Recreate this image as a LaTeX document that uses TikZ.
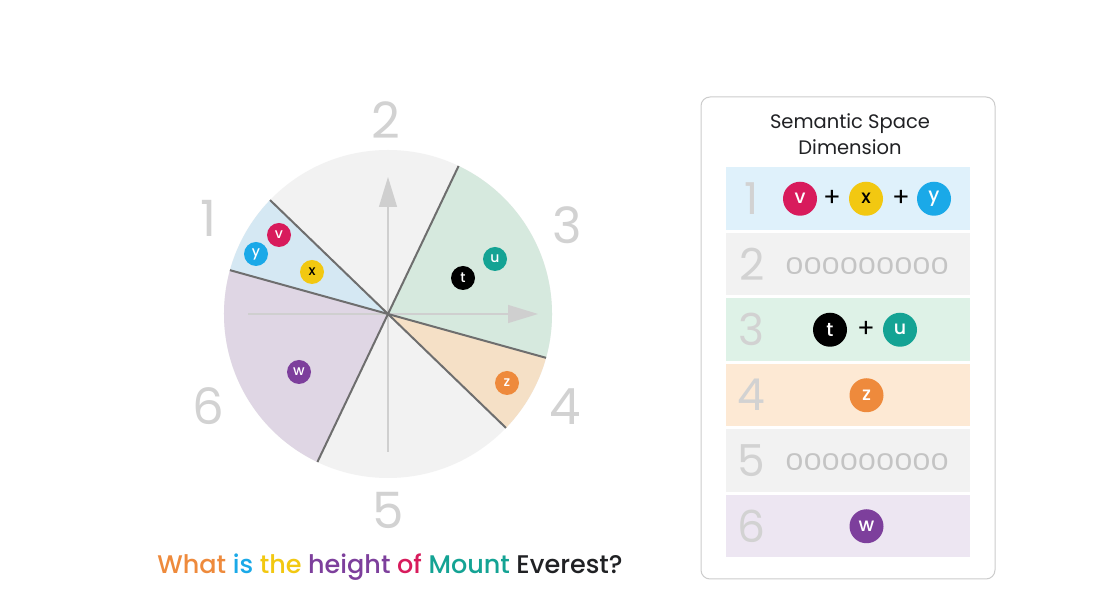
\documentclass[tikz,border=0pt]{standalone}
\usepackage{fontspec}
\setmainfont{Poppins}
\newfontfamily\medfont{Poppins Medium}
\usetikzlibrary{arrows.meta}

\definecolor{secblue}{HTML}{D5E8F3}
\definecolor{secgray}{HTML}{F2F2F2}
\definecolor{secgreen}{HTML}{D6E9DE}
\definecolor{secorange}{HTML}{F5E0C6}
\definecolor{secpurple}{HTML}{DFD6E4}
\definecolor{rowblue}{HTML}{DFF1FB}
\definecolor{rowgreen}{HTML}{DEF2E7}
\definecolor{roworange}{HTML}{FDE9D4}
\definecolor{rowpurple}{HTML}{EDE6F2}
\definecolor{divgray}{HTML}{6E6E6E}
\definecolor{axisgray}{HTML}{CFCFCF}
\definecolor{numgray}{HTML}{D2D2D2}
\definecolor{zerogray}{HTML}{C4C4C4}
\definecolor{boxgray}{HTML}{CCCCCC}
\definecolor{tokv}{HTML}{D81B5C}
\definecolor{tokx}{HTML}{F2C811}
\definecolor{toky}{HTML}{1AA9E8}
\definecolor{tokt}{HTML}{000000}
\definecolor{toku}{HTML}{14A394}
\definecolor{tokz}{HTML}{EE8A3C}
\definecolor{tokw}{HTML}{7D3F9C}
\definecolor{qblack}{HTML}{202124}

\begin{document}
\begin{tikzpicture}[x=1pt, y=1pt,
    token/.style={circle, inner sep=0pt, minimum size=24pt, text=white,
        font=\medfont\fontsize{14}{14}\selectfont},
    bigtoken/.style={token, minimum size=34pt, font=\medfont\fontsize{19}{19}\selectfont},
    divider/.style={divgray, line width=2pt},
    axisline/.style={axisgray, line width=1.3pt, -{Triangle[length=30pt,width=18pt]}},
    piedigit/.style={text=numgray, font=\fontsize{50}{50}\selectfont},
    rowdigit/.style={text=numgray, font=\fontsize{44}{44}\selectfont},
    rowbox/.style={inner sep=0pt, minimum width=244pt, minimum height=62.5pt},
    zero/.style={text=zerogray, inner sep=0pt, font=\fontsize{23}{23}\selectfont},
    plus/.style={font=\fontsize{26}{26}\selectfont}]

    \useasboundingbox[fill=white] (0,0) rectangle (1096,613);

    %pie
    \begin{scope}[shift={(388,299)}]
        \fill[secgray] (0,0) circle [radius=164];
        \fill[secblue] (0,0) -- (136:164) arc [start angle=136, end angle=164.5, radius=164] -- cycle;
        \fill[secgreen] (0,0) -- (-15.5:164) arc [start angle=-15.5, end angle=64.5, radius=164] -- cycle;
        \fill[secorange] (0,0) -- (-44:164) arc [start angle=-44, end angle=-15.5, radius=164] -- cycle;
        \fill[secpurple] (0,0) -- (164.5:164) arc [start angle=164.5, end angle=244.5, radius=164] -- cycle;

        \coordinate (o) at (0,0);
        \draw[axisline] (0,-138) -- (0,137);
        \draw[axisline] (-140,0) -- (150,0);

        \draw[divider] (64.5:164) -- (244.5:164);
        \draw[divider] (164.5:164) -- (-15.5:164);
        \draw[divider] (136:164) -- (-44:164);

        \node[token, fill=tokv] (pv) at (-109,79) {v};
        \node[token, fill=toky] (py) at (-132,60) {y};
        \node[token, fill=tokx, text=black] (px) at (-76,42) {x};
        \node[token, fill=tokt] (pt) at (75,36) {t};
        \node[token, fill=toku] (pu) at (107,55) {u};
        \node[token, fill=tokw] (pw) at (-89,-58) {w};
        \node[token, fill=tokz] (pz) at (119,-69) {z};
    \end{scope}

    \node[piedigit] (d1) at (208,395) {1};
    \node[piedigit] (d2) at (386,493) {2};
    \node[piedigit] (d3) at (567,388) {3};
    \node[piedigit] (d4) at (565,206) {4};
    \node[piedigit] (d5) at (388,103) {5};
    \node[piedigit] (d6) at (208,207) {6};

    %question
    \node[font=\medfont\fontsize{25.5}{25.5}\selectfont] (question) at (390,46)
        {\textcolor{tokz}{What} \textcolor{toky}{is} \textcolor{tokx}{the}
         \textcolor{tokw}{height} \textcolor{tokv}{of} \textcolor{toku}{Mount}
         \textcolor{qblack}{Everest?}};

    %table
    \draw[boxgray, line width=1pt, rounded corners=9pt] (701,516) rectangle (995,34);
    \node[align=center, font=\fontsize{19.5}{26}\selectfont, text=qblack] (title) at (850,479)
        {Semantic Space\\Dimension};

    \foreach \i/\col in {1/rowblue, 2/secgray, 3/rowgreen, 4/roworange, 5/secgray, 6/rowpurple}{
        \node[rowbox, fill=\col] (row\i) at (848,414.25-65.5*\i+65.5) {};
        \node[rowdigit] (rnum\i) at ([xshift=26pt]row\i.west) {\i};
    }

    \node[bigtoken, fill=tokv] (rv) at (800,414.25) {v};
    \node[plus] (plus1) at (832,414.25) {+};
    \node[bigtoken, fill=tokx, text=black] (rx) at (866,414.25) {x};
    \node[plus] (plus2) at (901,414.25) {+};
    \node[bigtoken, fill=toky] (ry) at (934,414.25) {y};

    % empty dimensions
    \foreach \r in {2,5}
        \foreach \k in {0,...,8}
            \node[zero] (zero\r\k) at (794.5+18.15*\k, -1.5-65.5*\r+479.75) {\scalebox{1.3}[1]{0}};

    \node[bigtoken, fill=tokt] (rt) at (830,283.25) {t};
    \node[plus] (plus3) at (866,283.25) {+};
    \node[bigtoken, fill=toku] (ru) at (900,283.25) {u};

    \node[bigtoken, fill=tokz] (rz) at (866.5,217.75) {z};

    \node[bigtoken, fill=tokw] (rw) at (866.5,86.75) {w};

\end{tikzpicture}
\end{document}
